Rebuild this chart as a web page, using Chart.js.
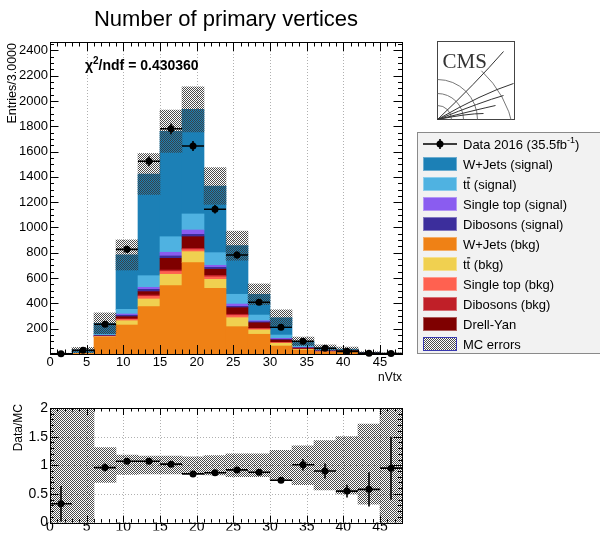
<!DOCTYPE html>
<html><head><meta charset="utf-8">
<script src="https://cdn.jsdelivr.net/npm/chart.js@4.4.1/dist/chart.umd.min.js"></script>
<style>
html,body{margin:0;padding:0;background:#fff;}
#wrap{position:relative;width:600px;height:533px;overflow:hidden;background:#fff;}
canvas{position:absolute;left:0;top:0;}
</style></head><body>
<div id="wrap"><canvas id="main" width="600" height="533"></canvas><canvas id="over" width="600" height="533"></canvas><canvas id="ratio" width="600" height="533"></canvas></div>
<script>
// ---------------- data ----------------
const binEdges   = [0,3,6,9,12,15,18,21,24,27,30,33,36,39,42,45,48];
const binCenters = [1.5,4.5,7.5,10.5,13.5,16.5,19.5,22.5,25.5,28.5,31.5,34.5,37.5,40.5,43.5,46.5];

// stack, bottom to top
const wjetsBkg   = [0.5, 3, 132, 229, 374, 540, 722, 519, 216, 156, 63, 30, 13, 16, 4, 1.5];
const ttbarBkg   = [0.1, 0.5, 4, 34, 61, 90, 87, 71, 71, 34, 22, 6, 3, 2, 0.5, 0.2];
const stopBkg    = [0, 0.2, 2, 10, 20, 22, 16, 20, 17, 8, 4, 2, 1, 1, 0.3, 0.1];
const dibosBkg   = [0, 0.2, 2, 6, 11, 12, 10, 12, 10, 5, 3, 1, 1, 1, 0.3, 0.1];
const drellYan   = [0.2, 1, 3, 16, 27, 92, 92, 48, 52, 44, 19, 8, 5, 7, 1.2, 0.5];
const dibosSig   = [0.1, 0.3, 2, 11, 18, 19, 19, 15, 11, 8, 6, 2, 2, 1, 0.3, 0.1];
const stopSig    = [0.1, 0.5, 3, 10, 16, 29, 34, 16, 18, 8, 7, 4, 4, 1, 0.4, 0.2];
const ttbarSig   = [0.3, 2.3, 6, 37, 92, 123, 127, 100, 77, 45, 26, 12, 5, 3, 1, 0.5];
const wjetsSig   = [1.7, 24, 89, 430, 804, 833, 827, 527, 384, 164, 137, 35, 16, 6, 2, 1];

const mcTotal    = [3, 32, 243, 783, 1423, 1760, 1934, 1328, 856, 472, 287, 100, 50, 38, 10, 4.2];
const mcErr      = [3, 20, 82, 119, 162, 167, 178, 145, 115, 82, 62, 34, 22, 17, 8, 4];

const dataVals   = [1, 30, 235, 827, 1523, 1780, 1644, 1144, 783, 409, 211, 101, 45, 21, 6, 4];
const dataErr    = [1, 5.5, 15.3, 28.8, 39, 42.2, 40.5, 33.8, 28, 20.2, 14.5, 10, 6.7, 4.6, 2.4, 2];

const ratioVals  = [0.33, null, 0.96, 1.07, 1.07, 1.02, 0.85, 0.87, 0.92, 0.88, 0.74, 1.01, 0.90, 0.55, 0.58, 0.95];
const ratioErr   = [0.31, null, 0.07, 0.035, 0.03, 0.025, 0.022, 0.025, 0.035, 0.04, 0.05, 0.1, 0.13, 0.11, 0.3, 0.55];
const ratioBandLo= [0, 0, 0.70, 0.84, 0.85, 0.85, 0.86, 0.83, 0.80, 0.80, 0.74, 0.66, 0.57, 0.50, 0.32, 0];
const ratioBandHi= [2, 2, 1.31, 1.18, 1.16, 1.16, 1.15, 1.17, 1.20, 1.20, 1.26, 1.34, 1.43, 1.50, 1.72, 2];

const xTickVals  = [0,5,10,15,20,25,30,35,40,45];
const yTickVals  = [200,400,600,800,1000,1200,1400,1600,1800,2000,2200,2400];
const rTickVals  = [0,0.5,1,1.5,2];
const rTickLabels= ['0','0.5','1','1.5','2'];

const seriesNames = ['W+Jets (bkg)','tt\u0304 (bkg)','Single top (bkg)','Dibosons (bkg)','Drell-Yan',
                     'Dibosons (signal)','Single top (signal)','tt\u0304 (signal)','W+Jets (signal)'];
const seriesColors= ['#ef8115','#f0d050','#ff6150','#c01f28','#7f0000','#3c2e9c','#8a5cf0','#4fb2e1','#1c80b6'];
const seriesData  = [wjetsBkg, ttbarBkg, stopBkg, dibosBkg, drellYan, dibosSig, stopSig, ttbarSig, wjetsSig];

const legendOrder = [8,7,6,5,0,1,2,3,4];
const dataLabel   = 'Data 2016 (35.5fb^{-1})';
const errLabel    = 'MC errors';
const chi2Text    = 'χ^{2}/ndf = 0.430360';

// ---------------- helpers ----------------
const FONT = '"Liberation Sans", Arial, Helvetica, sans-serif';
const binLabels = binCenters.map(String);
const YMAX = 2466;

function makeHatch(){
  const c=document.createElement('canvas'); c.width=4; c.height=4;
  const g=c.getContext('2d');
  const img=g.createImageData(4,4);
  for(let y=0;y<4;y++)for(let x=0;x<4;x++){
    const on = ((x+y)%2===0);
    const k=(y*4+x)*4;
    img.data[k]=60; img.data[k+1]=60; img.data[k+2]=60; img.data[k+3]= on?235:0;
  }
  g.putImageData(img,0,0);
  return g.createPattern(c,'repeat');
}
const hatch = makeHatch();

function drawRich(ctx, str, x, y, size, weight){
  weight = weight || '';
  const base = `${weight} ${size}px ${FONT}`;
  const sup  = `${weight} ${Math.round(size*0.7)}px ${FONT}`;
  ctx.textBaseline='alphabetic'; ctx.textAlign='left';
  let i=0, cx=x;
  while(i<str.length){
    if(str.startsWith('^{',i)){
      const j=str.indexOf('}',i); const s=str.slice(i+2,j);
      ctx.font=sup; ctx.fillText(s,cx,y-size*0.42); cx+=ctx.measureText(s).width; i=j+1; continue;
    }
    let j=i; let seg='';
    while(j<str.length && !str.startsWith('^{',j) && str[j+1]!=='\u0304' && str[j]!=='\u0304'){ seg+=str[j]; j++; }
    if(seg.length){ ctx.font=base; ctx.fillText(seg,cx,y); cx+=ctx.measureText(seg).width; i=j; continue; }
    if(str[i+1]==='\u0304'){
      ctx.font=base; const w=ctx.measureText(str[i]).width;
      ctx.fillText(str[i],cx,y); ctx.fillRect(cx+0.5,y-size*0.86,w-0.5,1);
      cx+=w; i+=2; continue;
    }
    i++;
  }
  return cx;
}

function drawPoints(chart, vals, errs, r){
  const {ctx} = chart; const x=chart.scales.xl, y=chart.scales.y;
  ctx.save();
  ctx.strokeStyle='#000'; ctx.fillStyle='#000'; ctx.lineWidth=1.6;
  vals.forEach((v,i)=>{
    if(v==null) return;
    const px=x.getPixelForValue(binCenters[i]), py=y.getPixelForValue(v);
    const xl=x.getPixelForValue(binEdges[i]), xr=x.getPixelForValue(binEdges[i+1]);
    const yt=y.getPixelForValue(Math.min(v+errs[i], y.max)), yb=y.getPixelForValue(Math.max(v-errs[i], y.min));
    ctx.beginPath(); ctx.moveTo(xl,py); ctx.lineTo(xr,py); ctx.moveTo(px,yt); ctx.lineTo(px,yb); ctx.stroke();
    ctx.beginPath(); ctx.arc(px,py,r,0,2*Math.PI); ctx.fill();
  });
  ctx.restore();
}

function drawGrid(chart, xv, yv){
  const {ctx, chartArea:a} = chart; const x=chart.scales.xl, y=chart.scales.y;
  ctx.save(); ctx.strokeStyle='#b0b0b0'; ctx.lineWidth=1; ctx.setLineDash([1,2]);
  ctx.beginPath();
  xv.forEach(v=>{ if(v<=x.min||v>=x.max) return; const p=Math.round(x.getPixelForValue(v))+0.5; ctx.moveTo(p,a.top); ctx.lineTo(p,a.bottom); });
  yv.forEach(v=>{ if(v<=y.min||v>=y.max) return; const p=Math.round(y.getPixelForValue(v))+0.5; ctx.moveTo(a.left,p); ctx.lineTo(a.right,p); });
  ctx.stroke(); ctx.restore();
}

function drawFrameTicks(chart, cfg){
  const {ctx, chartArea:a} = chart; const x=chart.scales.xl, y=chart.scales.y;
  ctx.save(); ctx.strokeStyle='#000'; ctx.lineWidth=1;
  ctx.beginPath();
  for(let v=x.min; v<=x.max+1e-9; v+=cfg.xMinorStep){
    const maj = Math.abs(v/cfg.xMajorStep-Math.round(v/cfg.xMajorStep))<1e-6;
    const L = maj?cfg.xMaj:cfg.xMin;
    const p=Math.round(x.getPixelForValue(v))+0.5;
    ctx.moveTo(p,a.bottom); ctx.lineTo(p,a.bottom-L);
    ctx.moveTo(p,a.top); ctx.lineTo(p,a.top+L);
  }
  for(let v=y.min; v<=y.max+1e-9; v+=cfg.yMinorStep){
    const maj = Math.abs(v/cfg.yMajorStep-Math.round(v/cfg.yMajorStep))<1e-6;
    const L = maj?cfg.yMaj:cfg.yMin;
    const p=Math.round(y.getPixelForValue(v))+0.5;
    ctx.moveTo(a.left,p); ctx.lineTo(a.left+L,p);
    ctx.moveTo(a.right,p); ctx.lineTo(a.right-L,p);
  }
  ctx.stroke();
  ctx.strokeRect(Math.round(a.left)+0.5, Math.round(a.top)+0.5, Math.round(a.right-a.left), Math.round(a.bottom-a.top));
  ctx.restore();
}

function drawCMS(ctx){
  const L=437.5, T=41.5, W=77, H=78;
  ctx.save();
  ctx.fillStyle='#fff'; ctx.fillRect(L,T,W,H);
  ctx.strokeStyle='#444'; ctx.lineWidth=1; ctx.strokeRect(L,T,W,H);
  ctx.beginPath(); ctx.rect(L,T,W,H); ctx.clip();
  ctx.fillStyle='#333'; ctx.font='21px "Liberation Serif", "Times New Roman", serif';
  ctx.textBaseline='alphabetic'; ctx.textAlign='left';
  ctx.fillText('CMS', L+5, T+26);
  const cx=L, cy=T+H;
  ctx.strokeStyle='#777'; ctx.lineWidth=1;
  [14,26,40].forEach(r=>{ctx.beginPath(); ctx.arc(cx,cy,r,-Math.PI/2,0); ctx.stroke();});
  ctx.beginPath(); ctx.arc(cx-30,cy+30,108,-Math.PI*0.26,-0.2); ctx.stroke();
  ctx.strokeStyle='#333';
  const tracks=[[L+38,T+42,L+66,T+10],[L+45,T+52,L+76,T+42],[L+45,T+60,L+66,T+54],[L+40,T+68,L+58,T+64],[L+30,T+72,L+46,T+72]];
  tracks.forEach(t=>{ctx.beginPath(); ctx.moveTo(L,T+H); ctx.quadraticCurveTo(t[0],t[1],t[2],t[3]); ctx.stroke();});
  ctx.restore();
}

function drawLegend(ctx){
  const bx=417.5, by=132.5, bw=190, bh=221;
  ctx.save();
  ctx.fillStyle='#f2f2f2'; ctx.fillRect(bx,by,bw,bh);
  ctx.strokeStyle='#8a8a8a'; ctx.lineWidth=1; ctx.strokeRect(bx,by,bw,bh);
  const sx=423, sw=34, sh=14, tx=463, size=13;
  let yc=144;
  ctx.strokeStyle='#000'; ctx.lineWidth=1.6;
  ctx.beginPath(); ctx.moveTo(sx,yc); ctx.lineTo(sx+sw,yc); ctx.moveTo(sx+sw/2,yc-5); ctx.lineTo(sx+sw/2,yc+5); ctx.stroke();
  ctx.fillStyle='#000'; ctx.beginPath(); ctx.arc(sx+sw/2,yc,3.5,0,2*Math.PI); ctx.fill();
  drawRich(ctx, dataLabel, tx, yc+4.5, size);
  legendOrder.forEach(k=>{
    yc+=20;
    ctx.fillStyle=seriesColors[k]; ctx.fillRect(sx,yc-sh/2,sw,sh);
    ctx.strokeStyle='rgba(255,255,255,0.35)'; ctx.lineWidth=1; ctx.strokeRect(sx+0.5,yc-sh/2+0.5,sw-1,sh-1);
    ctx.fillStyle='#000'; drawRich(ctx, seriesNames[k], tx, yc+4.5, size);
  });
  yc+=20;
  ctx.fillStyle='#fff'; ctx.fillRect(sx,yc-sh/2,sw,sh);
  ctx.fillStyle=hatch; ctx.fillRect(sx,yc-sh/2,sw,sh);
  ctx.strokeStyle='#3a3ab0'; ctx.lineWidth=1; ctx.strokeRect(sx+0.5,yc-sh/2+0.5,sw-1,sh-1);
  ctx.fillStyle='#000'; drawRich(ctx, errLabel, tx, yc+4.5, size);
  ctx.restore();
}

function xlScaleOpts(h, pad, size){
  return { type:'linear', position:'bottom', min:0, max:48, offset:false,
    grid:{display:false, drawTicks:false}, border:{display:false},
    ticks:{font:{family:FONT,size:size}, color:'#000', padding:pad, maxRotation:0, minRotation:0, autoSkip:false,
      callback:v=>String(v)},
    afterBuildTicks:s=>{s.ticks=xTickVals.map(v=>({value:v}));},
    afterFit:s=>{s.height=h;} };
}
function catScale(stacked){
  return { type:'category', labels:binLabels, offset:true, display:false, stacked:stacked, grid:{offset:true} };
}
const baseOpts = { responsive:false, animation:false, devicePixelRatio:1, events:[],
  plugins:{legend:{display:false}, tooltip:{enabled:false}, title:{display:false}} };

// ---------------- main chart: stacked MC ----------------
const stackSets = seriesData.map((arr,k)=>({
  label: seriesNames[k], data: arr,
  backgroundColor: seriesColors[k], borderWidth:0, barPercentage:1, categoryPercentage:1
}));

new Chart(document.getElementById('main'), {
  type:'bar',
  data:{ labels:binLabels, datasets:stackSets },
  options:{ ...baseOpts,
    layout:{padding:{left:0,right:198,top:42,bottom:159}},
    scales:{
      x: catScale(true),
      xl: xlScaleOpts(20, 1, 13),
      y: { type:'linear', min:0, max:YMAX, stacked:true,
        grid:{display:false, drawTicks:false}, border:{display:false},
        ticks:{font:{family:FONT,size:13}, color:'#000', padding:2, callback:v=>String(v)},
        afterBuildTicks:s=>{s.ticks=yTickVals.map(v=>({value:v}));},
        afterFit:s=>{s.width=50;} }
    }
  },
  plugins:[{
    id:'mainDecor',
    beforeDatasetsDraw(chart){ drawGrid(chart, xTickVals, []); },
    afterDraw(chart){
      const ctx=chart.ctx;
      ctx.save(); ctx.fillStyle='#000';
      ctx.font=`22px ${FONT}`; ctx.textAlign='center'; ctx.textBaseline='alphabetic';
      ctx.fillText('Number of primary vertices', 226, 26);
      ctx.font=`12px ${FONT}`; ctx.textAlign='right'; ctx.textBaseline='middle';
      ctx.fillText('nVtx', 402, 378);
      ctx.translate(13,43); ctx.rotate(-Math.PI/2);
      ctx.textAlign='right'; ctx.textBaseline='middle'; ctx.font=`12.5px ${FONT}`;
      ctx.fillText('Entries/3.0000', 0, 0);
      ctx.restore();
      drawCMS(ctx);
      drawLegend(ctx);
    }
  }]
});

// ---------------- overlay chart: MC error band + data ----------------
const hatchSet = {
  label:'MC errors', data: mcTotal.map((v,i)=>[v-mcErr[i], v+mcErr[i]]),
  backgroundColor: hatch, borderWidth:0, barPercentage:1, categoryPercentage:1
};
new Chart(document.getElementById('over'), {
  type:'bar',
  data:{ labels:binLabels, datasets:[hatchSet] },
  options:{ ...baseOpts,
    layout:{padding:{left:50,right:198,top:42,bottom:179}},
    scales:{
      x: catScale(false),
      xl: { type:'linear', min:0, max:48, offset:false, display:false },
      y: { type:'linear', min:0, max:YMAX, display:false }
    }
  },
  plugins:[{
    id:'overDecor',
    afterDatasetsDraw(chart){ drawPoints(chart, dataVals, dataErr, 3.5); },
    afterDraw(chart){
      drawFrameTicks(chart, {xMinorStep:1, xMajorStep:5, xMaj:9, xMin:4.5, yMinorStep:50, yMajorStep:200, yMaj:8.5, yMin:4});
      const ctx=chart.ctx; ctx.save(); ctx.fillStyle='#000';
      drawRich(ctx, chi2Text, 85, 70, 14, 'bold');
      ctx.restore();
    }
  }]
});

// ---------------- ratio chart ----------------
const bandSet = {
  label:'band', data: ratioBandLo.map((v,i)=>[v, ratioBandHi[i]]),
  backgroundColor: hatch, borderWidth:0, barPercentage:1, categoryPercentage:1
};
new Chart(document.getElementById('ratio'), {
  type:'bar',
  data:{ labels:binLabels, datasets:[bandSet] },
  options:{ ...baseOpts,
    layout:{padding:{left:0,right:198,top:408,bottom:0}},
    scales:{
      x: catScale(false),
      xl: xlScaleOpts(8, -4, 14),
      y: { type:'linear', min:0, max:2,
        grid:{display:false, drawTicks:false}, border:{display:false},
        ticks:{font:{family:FONT,size:14}, color:'#000', padding:2, callback:(v,i)=>rTickLabels[i]},
        afterBuildTicks:s=>{s.ticks=rTickVals.map(v=>({value:v}));},
        afterFit:s=>{s.width=50;} }
    }
  },
  plugins:[{
    id:'ratioDecor',
    beforeDatasetsDraw(chart){ drawGrid(chart, xTickVals, rTickVals); },
    afterDatasetsDraw(chart){ drawPoints(chart, ratioVals, ratioErr, 3.5); },
    afterDraw(chart){
      const ctx=chart.ctx;
      drawFrameTicks(chart, {xMinorStep:1, xMajorStep:5, xMaj:7, xMin:3.5, yMinorStep:0.1, yMajorStep:0.5, yMaj:8.5, yMin:4});
      ctx.save(); ctx.fillStyle='#000';
      ctx.translate(19,404); ctx.rotate(-Math.PI/2);
      ctx.textAlign='right'; ctx.textBaseline='middle'; ctx.font=`12px ${FONT}`;
      ctx.fillText('Data/MC', 0, 0);
      ctx.restore();
    }
  }]
});
</script>
</body></html>
